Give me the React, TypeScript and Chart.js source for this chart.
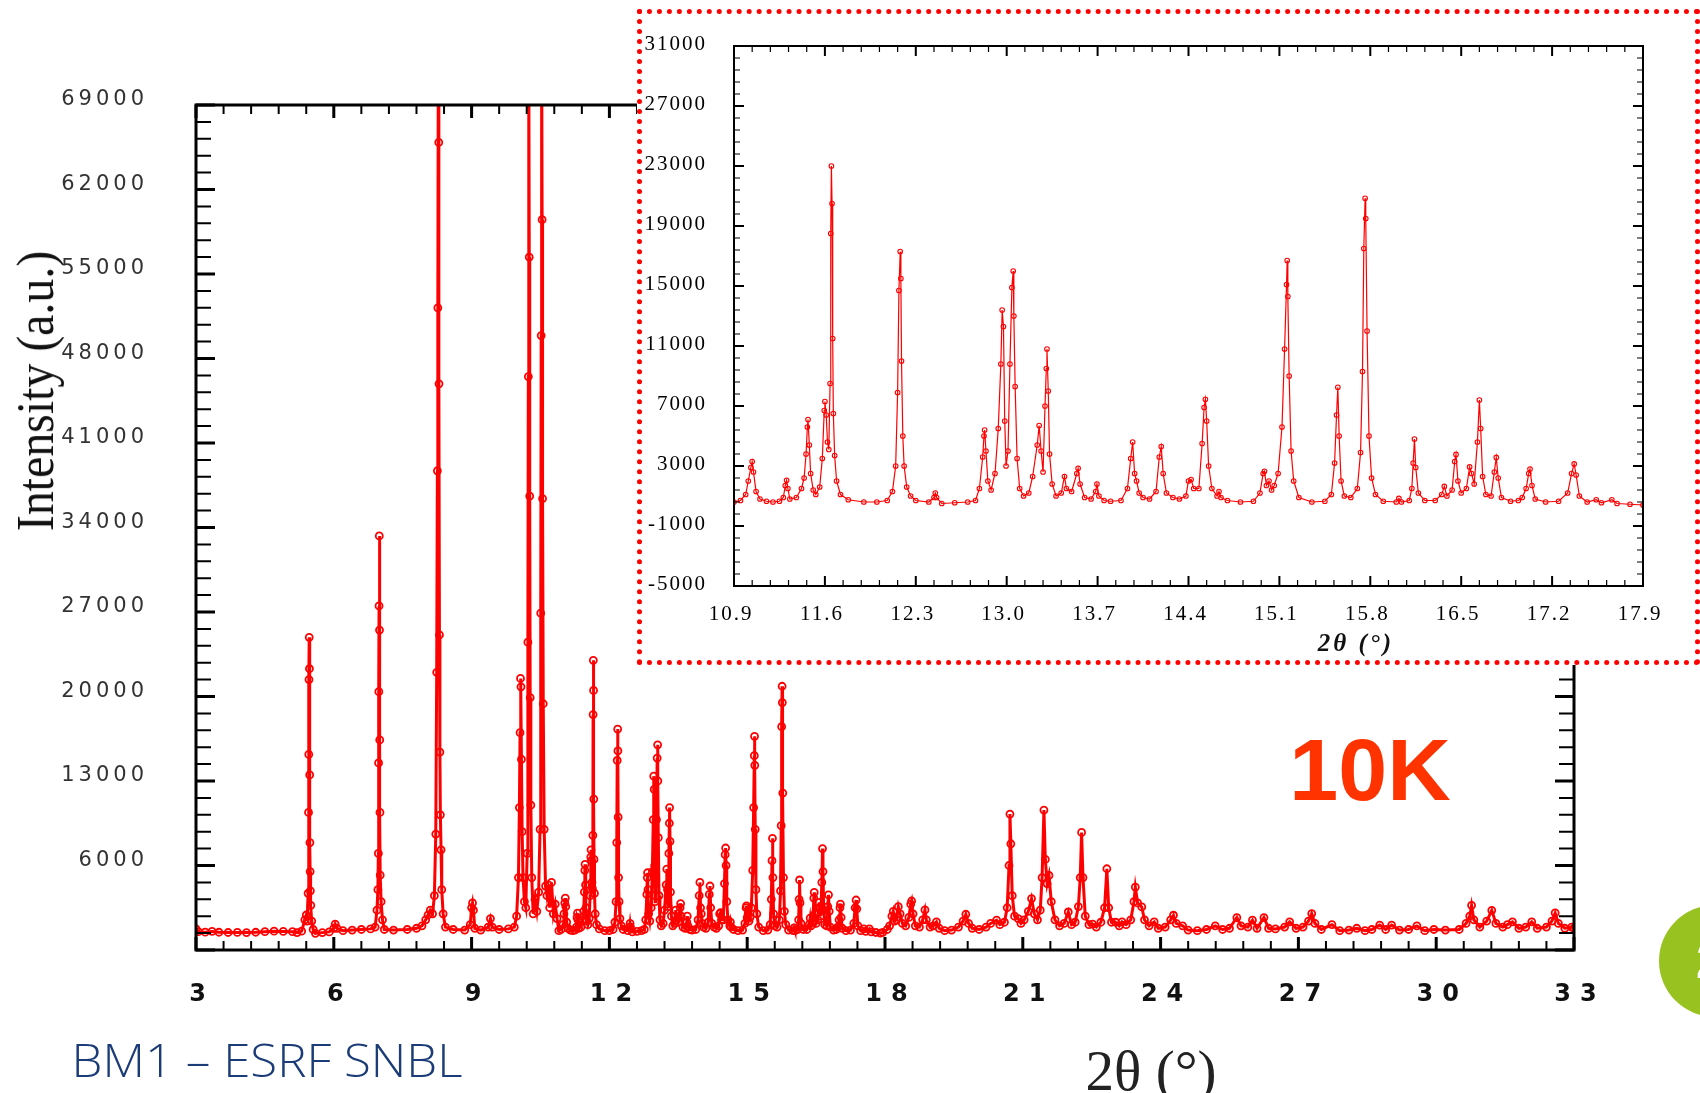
import React, { useEffect, useRef } from 'react';
import { Chart, registerables } from 'chart.js';
import type { Plugin, ChartConfiguration } from 'chart.js';

Chart.register(...registerables);

// ---------- axis tick labels ----------
const mainXTicks = [3, 6, 9, 12, 15, 18, 21, 24, 27, 30, 33];
const mainYTicks = [6000, 13000, 20000, 27000, 34000, 41000, 48000, 55000, 62000, 69000];
const insetXTicks = [10.9, 11.6, 12.3, 13.0, 13.7, 14.4, 15.1, 15.8, 16.5, 17.2, 17.9];
const insetYTicks = [-5000, -1000, 3000, 7000, 11000, 15000, 19000, 23000, 27000, 31000];

// ---------- diffraction scan, [2θ (°), intensity (a.u.)] ----------
const lowAngleScan: [number, number][] = [
  [3.0, 750], [3.05, 520], [3.2, 480], [3.35, 540], [3.5, 470], [3.7, 450], [3.9, 460], [4.1, 440],
  [4.3, 470], [4.5, 520], [4.7, 560], [4.9, 540], [5.1, 520], [5.2, 440], [5.3, 560], [5.37, 1500],
  [5.4, 1900], [5.42, 1400], [5.44, 3700], [5.45, 10400], [5.455, 15200], [5.46, 21400], [5.465, 24900],
  [5.47, 22300], [5.475, 13500], [5.48, 7900], [5.485, 5500], [5.49, 3900], [5.5, 2700], [5.52, 1400],
  [5.55, 700], [5.6, 380], [5.75, 440], [5.9, 500], [6.0, 800], [6.03, 1150], [6.07, 800], [6.2, 600],
  [6.4, 650], [6.6, 700], [6.8, 750], [6.9, 900], [6.94, 2300], [6.96, 4000], [6.97, 7000], [6.975, 14500],
  [6.98, 20400], [6.985, 27500], [6.99, 33300], [6.995, 25500], [7.0, 16400], [7.005, 10400], [7.01, 5200],
  [7.03, 3000], [7.06, 1500], [7.1, 700], [7.3, 650], [7.6, 700], [7.8, 800], [7.92, 1000], [8.0, 1500],
  [8.05, 1900], [8.1, 2300], [8.15, 2000], [8.19, 3500], [8.22, 8600], [8.24, 22000], [8.255, 38700],
  [8.265, 52200], [8.275, 73000], [8.285, 65900], [8.29, 45900], [8.3, 25100], [8.31, 15400], [8.32, 10200],
  [8.335, 7300], [8.35, 4000], [8.38, 2000], [8.43, 900], [8.6, 700], [8.85, 650], [8.97, 1100], [9.0, 2500],
  [9.02, 2900], [9.04, 2300], [9.07, 800], [9.2, 650], [9.36, 900], [9.41, 1600], [9.45, 900], [9.6, 700],
  [9.8, 750], [9.93, 900], [9.98, 1800], [10.02, 5000], [10.04, 10800], [10.055, 17000], [10.065, 21500],
  [10.075, 20800], [10.085, 14800], [10.1, 8800], [10.12, 5000], [10.15, 3000], [10.18, 2500], [10.21, 7000],
  [10.225, 24500], [10.235, 46500], [10.245, 74000], [10.255, 56400], [10.265, 36600], [10.275, 19900],
  [10.29, 11000], [10.31, 5000], [10.34, 2000], [10.38, 3200], [10.42, 2200], [10.46, 3800], [10.49, 9000],
  [10.505, 26900], [10.515, 49900], [10.525, 75000], [10.535, 59500], [10.545, 36400], [10.56, 19400],
  [10.58, 9000], [10.61, 4300], [10.64, 3500], [10.67, 4400], [10.7, 2500], [10.74, 4600], [10.78, 2000],
  [10.82, 2800], [10.86, 1600],
];

const midAngleScan: [number, number][] = [
  [10.9, 600], [10.95, 700], [10.99, 1100], [11.01, 2000], [11.03, 2900], [11.04, 3300], [11.05, 2600],
  [11.07, 1300], [11.1, 800], [11.15, 650], [11.2, 600], [11.25, 650], [11.28, 900], [11.295, 1700],
  [11.305, 2050], [11.315, 1500], [11.33, 800], [11.38, 900], [11.42, 1500], [11.44, 2200], [11.455, 3800],
  [11.465, 5600], [11.47, 6100], [11.48, 4400], [11.49, 2500], [11.51, 1400], [11.53, 1100], [11.56, 1600],
  [11.58, 3500], [11.595, 6700], [11.6, 7300], [11.61, 6400], [11.62, 4600], [11.63, 4100], [11.64, 8500],
  [11.645, 18500], [11.65, 23000], [11.655, 20500], [11.66, 11500], [11.665, 6500], [11.675, 3700],
  [11.69, 2000], [11.72, 1100], [11.78, 750], [11.9, 600], [12.0, 600], [12.08, 700], [12.12, 1300],
  [12.145, 3000], [12.16, 7900], [12.17, 14700], [12.18, 17300], [12.185, 15500], [12.19, 10000],
  [12.2, 5000], [12.21, 3000], [12.23, 1600], [12.26, 1000], [12.3, 700], [12.4, 600], [12.44, 900],
  [12.45, 1200], [12.46, 900], [12.5, 500], [12.6, 550], [12.7, 600], [12.76, 700], [12.79, 1500],
  [12.815, 3600], [12.825, 5000], [12.83, 5400], [12.84, 4000], [12.855, 2000], [12.88, 1400], [12.91, 2500],
  [12.935, 5500], [12.955, 9800], [12.965, 13400], [12.975, 12300], [12.985, 6000], [12.995, 3000],
  [13.01, 4000], [13.025, 9800], [13.04, 14900], [13.05, 16000], [13.055, 13000], [13.065, 8300],
  [13.08, 3500], [13.1, 1500], [13.13, 1000], [13.17, 1200], [13.2, 2300], [13.235, 4400], [13.25, 5700],
  [13.265, 4000], [13.28, 2600], [13.295, 7000], [13.305, 9500], [13.31, 10800], [13.32, 8000], [13.33, 3800],
  [13.35, 1800], [13.38, 1000], [13.42, 1200], [13.445, 2300], [13.46, 1500], [13.5, 1300], [13.54, 2500],
  [13.55, 2850], [13.565, 1800], [13.6, 900], [13.65, 800], [13.685, 1300], [13.695, 1800], [13.71, 1000],
  [13.75, 700], [13.8, 650], [13.88, 700], [13.93, 1500], [13.955, 3500], [13.97, 4600], [13.985, 2500],
  [14.0, 2000], [14.02, 1200], [14.05, 900], [14.1, 800], [14.15, 1300], [14.175, 3600], [14.19, 4300],
  [14.205, 2500], [14.23, 1200], [14.28, 900], [14.33, 800], [14.38, 1000], [14.4, 2000], [14.42, 2100],
  [14.44, 1500], [14.48, 1500], [14.505, 4500], [14.52, 6900], [14.53, 7450], [14.54, 6000], [14.555, 3000],
  [14.58, 1500], [14.62, 1000], [14.635, 1300], [14.65, 900], [14.7, 700], [14.8, 600], [14.9, 650],
  [14.95, 1200], [14.975, 2500], [14.985, 2650], [15.0, 1700], [15.02, 2000], [15.04, 1400], [15.06, 1700],
  [15.09, 2500], [15.12, 5600], [15.14, 10800], [15.155, 15100], [15.16, 16700], [15.165, 14300],
  [15.175, 9000], [15.19, 4000], [15.21, 2000], [15.25, 900], [15.35, 600], [15.45, 650], [15.5, 1100],
  [15.525, 3200], [15.54, 6400], [15.55, 8250], [15.56, 5000], [15.575, 2000], [15.6, 1000], [15.65, 900],
  [15.7, 1500], [15.725, 3900], [15.74, 9300], [15.75, 17500], [15.76, 20850], [15.765, 19500],
  [15.775, 12000], [15.79, 5000], [15.81, 2200], [15.84, 1100], [15.9, 650], [16.0, 600], [16.02, 840],
  [16.04, 600], [16.1, 700], [16.12, 1500], [16.13, 3200], [16.14, 4800], [16.15, 2900], [16.17, 1200],
  [16.22, 700], [16.3, 700], [16.35, 1100], [16.37, 1640], [16.39, 1000], [16.43, 1400], [16.45, 3300],
  [16.46, 3770], [16.475, 2000], [16.5, 1200], [16.54, 1500], [16.565, 2940], [16.58, 2500], [16.6, 1800],
  [16.625, 4600], [16.64, 7400], [16.65, 5500], [16.665, 2300], [16.69, 1100], [16.73, 1000], [16.755, 2600],
  [16.77, 3570], [16.785, 2200], [16.81, 900], [16.88, 650], [16.94, 700], [16.97, 900], [17.0, 1500],
  [17.02, 2500], [17.03, 2800], [17.045, 1700], [17.07, 800], [17.15, 600], [17.25, 650], [17.32, 1200],
  [17.35, 2500], [17.37, 3140], [17.385, 2400], [17.41, 1000], [17.47, 600], [17.54, 750], [17.58, 550],
  [17.66, 750], [17.7, 500], [17.8, 450], [17.9, 400],
];

const highAngleScan: [number, number][] = [
  [17.95, 450], [18.05, 700], [18.1, 1000], [18.15, 1800], [18.18, 2200], [18.21, 1400], [18.25, 1500],
  [18.29, 2590], [18.33, 2000], [18.38, 1200], [18.45, 1000], [18.52, 1700], [18.56, 2800], [18.58, 3060],
  [18.61, 2000], [18.66, 1000], [18.75, 900], [18.82, 1500], [18.87, 2320], [18.9, 1500], [18.98, 900],
  [19.05, 1000], [19.12, 1330], [19.18, 800], [19.3, 600], [19.45, 650], [19.6, 900], [19.7, 1400],
  [19.76, 1960], [19.82, 1200], [19.9, 800], [20.05, 700], [20.2, 900], [20.3, 1200], [20.43, 1470],
  [20.5, 1100], [20.6, 1300], [20.66, 2500], [20.7, 6000], [20.72, 10260], [20.74, 7800], [20.77, 3500],
  [20.82, 1800], [20.9, 1600], [20.96, 1200], [21.03, 1500], [21.12, 2200], [21.19, 3260], [21.25, 2000],
  [21.32, 1500], [21.38, 2300], [21.42, 5000], [21.46, 10590], [21.49, 6500], [21.53, 4500], [21.57, 5180],
  [21.62, 3000], [21.7, 1500], [21.8, 1000], [21.9, 1200], [21.99, 2150], [22.06, 1100], [22.14, 1300],
  [22.21, 2600], [22.25, 5000], [22.28, 8740], [22.31, 5000], [22.36, 1800], [22.44, 1100], [22.52, 1140],
  [22.6, 900], [22.7, 1300], [22.78, 2500], [22.83, 5730], [22.87, 2500], [22.93, 1300], [23.02, 1300],
  [23.1, 1000], [23.16, 1330], [23.25, 1100], [23.35, 1500], [23.42, 3000], [23.45, 4210], [23.5, 2900],
  [23.59, 2570], [23.65, 1500], [23.75, 1000], [23.86, 1330], [23.95, 800], [24.1, 900], [24.22, 1500],
  [24.28, 1880], [24.34, 1200], [24.48, 1000], [24.6, 650], [24.8, 600], [25.0, 700], [25.19, 1000],
  [25.35, 700], [25.5, 800], [25.66, 1690], [25.75, 1000], [25.9, 900], [26.0, 1470], [26.1, 800],
  [26.25, 1690], [26.35, 800], [26.5, 750], [26.7, 900], [26.81, 1330], [26.95, 800], [27.1, 900],
  [27.22, 1400], [27.29, 2020], [27.36, 1200], [27.5, 700], [27.73, 1100], [27.9, 600], [28.1, 650],
  [28.27, 800], [28.45, 600], [28.6, 700], [28.77, 1060], [28.9, 700], [29.03, 1060], [29.2, 650],
  [29.4, 700], [29.58, 1000], [29.75, 600], [29.95, 700], [30.2, 650], [30.5, 700], [30.65, 1200],
  [30.73, 1800], [30.77, 2700], [30.82, 1500], [30.95, 900], [31.1, 1400], [31.21, 2290], [31.3, 1200],
  [31.45, 900], [31.55, 1100], [31.66, 1330], [31.8, 800], [31.95, 900], [32.08, 1330], [32.2, 800],
  [32.4, 900], [32.52, 1400], [32.59, 2070], [32.66, 1200], [32.8, 800], [32.95, 900], [33.0, 800],
];

const toPoints = (rows: [number, number][]) => rows.map(([x, y]) => ({ x, y }));

// ---------- inward tick marks + frame ----------
interface FrameSpec {
  xMajor: number[];
  xMinorStep: number;
  yMajor: number[];
  yMinorStep: number;
  xMajorLen: number;
  xMinorLen: number;
  yMajorLen: number;
  yMinorLen: number;
  frameWidth: number;
  majorWidth: number;
  minorWidth: number;
}

function framePlugin(spec: FrameSpec): Plugin<'line'> {
  return {
    id: 'frameTicks',
    afterDatasetsDraw(chart) {
      const { ctx, chartArea: a } = chart;
      const xs: any = chart.scales.x;
      const ys: any = chart.scales.y;
      const minors = (min: number, max: number, step: number, majors: number[]) => {
        const out: number[] = [];
        for (let i = 0; min + i * step <= max + step * 1e-6; i++) {
          const v = min + i * step;
          if (!majors.some((m) => Math.abs(m - v) < step / 4)) out.push(v);
        }
        return out;
      };
      ctx.save();
      ctx.strokeStyle = '#000';
      ctx.lineCap = 'butt';
      const tickX = (v: number, len: number, w: number) => {
        const p = xs.getPixelForValue(v);
        ctx.lineWidth = w;
        ctx.beginPath();
        ctx.moveTo(p, a.bottom);
        ctx.lineTo(p, a.bottom - len);
        ctx.moveTo(p, a.top);
        ctx.lineTo(p, a.top + len);
        ctx.stroke();
      };
      const tickY = (v: number, len: number, w: number) => {
        const p = ys.getPixelForValue(v);
        ctx.lineWidth = w;
        ctx.beginPath();
        ctx.moveTo(a.left, p);
        ctx.lineTo(a.left + len, p);
        ctx.moveTo(a.right, p);
        ctx.lineTo(a.right - len, p);
        ctx.stroke();
      };
      minors(xs.min, xs.max, spec.xMinorStep, spec.xMajor).forEach((v) => tickX(v, spec.xMinorLen, spec.minorWidth));
      spec.xMajor.forEach((v) => tickX(v, spec.xMajorLen, spec.majorWidth));
      minors(ys.min, ys.max, spec.yMinorStep, spec.yMajor).forEach((v) => tickY(v, spec.yMinorLen, spec.minorWidth));
      spec.yMajor.forEach((v) => tickY(v, spec.yMajorLen, spec.majorWidth));
      ctx.lineWidth = spec.frameWidth;
      ctx.strokeRect(a.left, a.top, a.right - a.left, a.bottom - a.top);
      ctx.restore();
    },
  };
}

// letter spacing for the tick labels of individual scales
function labelSpacingPlugin(spacing: Record<string, string>): Plugin<'line'> {
  return {
    id: 'labelSpacing',
    beforeDraw(chart) {
      Object.keys(spacing).forEach((id) => {
        const s: any = chart.scales[id];
        if (!s || s.__spaced) return;
        const orig = s.drawLabels.bind(s);
        s.drawLabels = (area: any) => {
          const c: any = chart.ctx;
          const prev = c.letterSpacing;
          c.letterSpacing = spacing[id];
          orig(area);
          c.letterSpacing = prev ?? '0px';
        };
        s.__spaced = true;
      });
    },
  };
}

// fixed axis box sizes so the plot area sits exactly inside the layout padding
const fixHeight = (h: number) => (s: any) => {
  s.height = h;
  s.paddingLeft = 0;
  s.paddingRight = 0;
};
const fixWidth = (w: number) => (s: any) => {
  s.width = w;
  s.paddingTop = 0;
  s.paddingBottom = 0;
};

function mainConfig(): ChartConfiguration<'line'> {
  return {
    type: 'line',
    data: {
      datasets: [
        {
          data: toPoints([...lowAngleScan, ...midAngleScan, ...highAngleScan]) as any,
          borderColor: '#ff0000',
          borderWidth: 3,
          pointRadius: 3.5,
          pointBorderWidth: 1.8,
          pointBorderColor: '#ff0000',
          pointBackgroundColor: 'rgba(255,255,255,0)',
          tension: 0,
        },
      ],
    },
    options: {
      responsive: false,
      animation: false,
      events: [],
      layout: { padding: { left: 0, top: 105, right: 126, bottom: 0 } },
      plugins: { legend: { display: false }, tooltip: { enabled: false } },
      scales: {
        x: {
          type: 'linear',
          min: 3,
          max: 33,
          afterBuildTicks: (s: any) => {
            s.ticks = mainXTicks.map((value) => ({ value }));
          },
          afterFit: fixHeight(143),
          grid: { display: false, drawTicks: false },
          border: { display: false },
          ticks: {
            autoSkip: false,
            maxRotation: 0,
            padding: 30,
            labelOffset: 6,
            color: '#111',
            font: { family: 'DejaVu Sans', size: 24, weight: 'bold' },
            callback: (v: any) => String(v),
          },
        },
        y: {
          type: 'linear',
          min: -1000,
          max: 69000,
          afterBuildTicks: (s: any) => {
            s.ticks = mainYTicks.map((value) => ({ value }));
          },
          afterFit: fixWidth(196),
          grid: { display: false, drawTicks: false },
          border: { display: false },
          ticks: {
            autoSkip: false,
            padding: 48,
            labelOffset: -5,
            color: '#333',
            font: { family: 'DejaVu Sans', size: 21 },
            callback: (v: any) => String(v),
          },
        },
      },
    },
    plugins: [
      labelSpacingPlugin({ x: '9px', y: '4px' }),
      framePlugin({
        xMajor: mainXTicks,
        xMinorStep: 0.6,
        yMajor: [-1000, ...mainYTicks],
        yMinorStep: 1400,
        xMajorLen: 13,
        xMinorLen: 9,
        yMajorLen: 19,
        yMinorLen: 15,
        frameWidth: 3,
        majorWidth: 3,
        minorWidth: 2,
      }),
    ],
  };
}

function insetConfig(): ChartConfiguration<'line'> {
  return {
    type: 'line',
    data: {
      datasets: [
        {
          data: toPoints(midAngleScan) as any,
          borderColor: '#ff0000',
          borderWidth: 1.2,
          pointRadius: 2.3,
          pointBorderWidth: 1.1,
          pointBorderColor: '#ff0000',
          pointBackgroundColor: 'rgba(255,255,255,0)',
          tension: 0,
        },
      ],
    },
    options: {
      responsive: false,
      animation: false,
      events: [],
      layout: { padding: { left: 0, top: 32, right: 52, bottom: 0 } },
      plugins: { legend: { display: false }, tooltip: { enabled: false } },
      scales: {
        x: {
          type: 'linear',
          min: 10.9,
          max: 17.9,
          afterBuildTicks: (s: any) => {
            s.ticks = insetXTicks.map((value) => ({ value }));
          },
          afterFit: fixHeight(74),
          grid: { display: false, drawTicks: false },
          border: { display: false },
          ticks: {
            autoSkip: false,
            maxRotation: 0,
            padding: 16,
            labelOffset: -3,
            color: '#000',
            font: { family: 'Liberation Serif', size: 21 },
            callback: (v: any) => Number(v).toFixed(1),
          },
        },
        y: {
          type: 'linear',
          min: -5000,
          max: 31000,
          afterBuildTicks: (s: any) => {
            s.ticks = insetYTicks.map((value) => ({ value }));
          },
          afterFit: fixWidth(92),
          grid: { display: false, drawTicks: false },
          border: { display: false },
          ticks: {
            autoSkip: false,
            padding: 27,
            labelOffset: -2,
            color: '#000',
            font: { family: 'Liberation Serif', size: 21 },
            callback: (v: any) => String(v),
          },
        },
      },
    },
    plugins: [
      labelSpacingPlugin({ x: '2px', y: '2px' }),
      framePlugin({
        xMajor: insetXTicks,
        xMinorStep: 0.14,
        yMajor: insetYTicks,
        yMinorStep: 800,
        xMajorLen: 10,
        xMinorLen: 6,
        yMajorLen: 10,
        yMinorLen: 6,
        frameWidth: 2,
        majorWidth: 2,
        minorWidth: 1.2,
      }),
    ],
  };
}

const centered = (left: number, top: number): React.CSSProperties => ({
  position: 'absolute',
  left,
  top,
  transform: 'translate(-50%, -50%)',
  whiteSpace: 'nowrap',
  lineHeight: 1,
});

export default function App() {
  const mainRef = useRef<HTMLCanvasElement>(null);
  const insetRef = useRef<HTMLCanvasElement>(null);

  useEffect(() => {
    const main = new Chart(mainRef.current as HTMLCanvasElement, mainConfig());
    const inset = new Chart(insetRef.current as HTMLCanvasElement, insetConfig());
    return () => {
      main.destroy();
      inset.destroy();
    };
  }, []);

  return (
    <div
      style={{
        position: 'fixed',
        left: 0,
        top: 0,
        width: 1700,
        height: 1093,
        overflow: 'hidden',
        background: '#ffffff',
      }}
    >
      <canvas ref={mainRef} width={1700} height={1093} style={{ position: 'absolute', left: 0, top: 0, width: 1700, height: 1093 }} />

      <div
        style={{
          position: 'absolute',
          left: 36,
          top: 391,
          transform: 'translate(-50%, -50%) rotate(-90deg) scaleX(0.92)',
          whiteSpace: 'nowrap',
          lineHeight: 1,
          fontFamily: '"Liberation Serif", serif',
          fontSize: 52,
          color: '#111',
        }}
      >
        Intensity (a.u.)
      </div>

      <div style={{ ...centered(1151, 1070), fontFamily: '"Liberation Serif", serif', fontSize: 57, color: '#222' }}>2θ (°)</div>

      <div
        style={{
          ...centered(267, 1059),
          transform: 'translate(-50%, -50%) scaleX(1.07)',
          fontFamily: '"Open Sans", sans-serif',
          fontWeight: 300,
          fontSize: 46,
          color: '#1c3c78',
        }}
      >
        BM1 – ESRF SNBL
      </div>

      <div style={{ ...centered(1370, 770), fontFamily: '"Liberation Sans", Arial, sans-serif', fontWeight: 'bold', fontSize: 88, color: '#ff3300' }}>10K</div>

      <div
        style={{
          position: 'absolute',
          left: 1659,
          top: 905,
          width: 112,
          height: 112,
          borderRadius: '50%',
          background: '#97c21f',
          overflow: 'hidden',
        }}
      >
        <span
          style={{
            position: 'absolute',
            left: 37,
            top: 56,
            transform: 'translateY(-50%)',
            lineHeight: 1,
            fontFamily: '"Liberation Sans", Arial, sans-serif',
            fontWeight: 'bold',
            fontSize: 50,
            color: '#ffffff',
          }}
        >
          24
        </span>
      </div>

      <div
        style={{
          position: 'absolute',
          left: 637,
          top: 9,
          width: 1063,
          height: 656,
          boxSizing: 'border-box',
          border: '5px dotted #ff0000',
          background: '#ffffff',
        }}
      >
        <canvas ref={insetRef} width={1053} height={646} style={{ position: 'absolute', left: 0, top: 0, width: 1053, height: 646 }} />
      </div>

      <div
        style={{
          ...centered(1356, 642),
          fontFamily: '"Liberation Serif", serif',
          fontStyle: 'italic',
          fontWeight: 'bold',
          fontSize: 25,
          letterSpacing: 3,
          color: '#111',
        }}
      >
        2θ (°)
      </div>
    </div>
  );
}
